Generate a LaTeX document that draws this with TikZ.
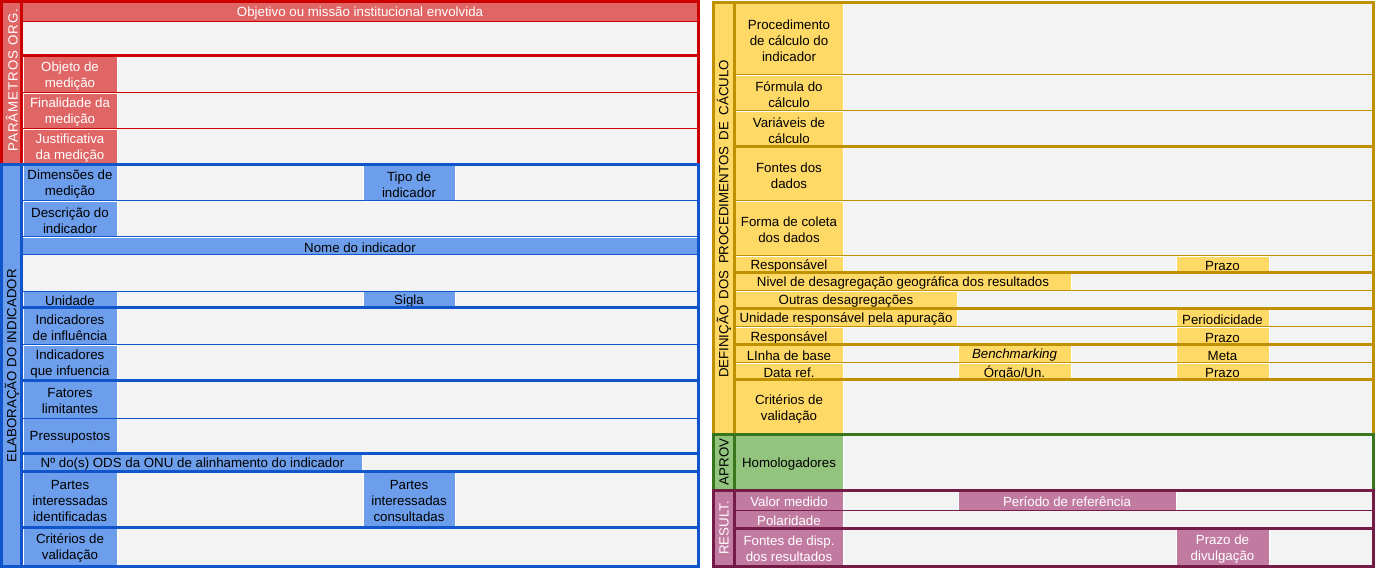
\documentclass[tikz,border=0pt]{standalone}
\usepackage{fontspec}
\setmainfont{Liberation Sans}
\usetikzlibrary{calc}

\definecolor{cinza}{HTML}{F3F3F3}
\definecolor{vermelho}{HTML}{CC0000}
\definecolor{vermclaro}{HTML}{E06666}
\definecolor{azul}{HTML}{1155CC}
\definecolor{azulclaro}{HTML}{6D9EEB}
\definecolor{ouro}{HTML}{BF9000}
\definecolor{ouroclaro}{HTML}{FFD966}
\definecolor{verde}{HTML}{38761D}
\definecolor{verdeclaro}{HTML}{93C47D}
\definecolor{roxo}{HTML}{741B47}
\definecolor{roxoclaro}{HTML}{C27BA0}

% celula: nome, fundo, cor do texto, x1, y1, x2, y2, texto
\newcommand{\celula}[8]{%
  \filldraw[fill=#2, draw=white, line width=0.8pt] (#4,#5) rectangle (#6,#7);
  \node[rotulo, text=#3] (#1) at ({(#4+#6)/2},{(#5+#7)/2+1.5}) {#8};
}

\begin{document}
\begin{tikzpicture}[x=1pt, y=-1pt,
    rotulo/.style={font=\fontsize{13.3}{16}\selectfont, align=center, inner sep=0pt},
    fina/.style={line width=1pt},
    grossa/.style={line width=3pt}]
            \useasboundingbox (0,0) rectangle (1377,569);
            \fill[cinza] (1.5,1.5) rectangle (698.5,566.5);
            \fill[cinza] (713,2.5) rectangle (1373.5,566.5);

            % parametros organizacionais
            \fill[vermclaro] (1.5,1.5) rectangle (21.5,164.5);
            \node[rotulo, rotate=90, text=white] (parametros) at (12,80) {\addfontfeature{LetterSpace=7.5}PARÂMETROS ORG.};
            \celula{objetivo}{vermclaro}{white}{21.5}{1.5}{698.5}{21.5}{Objetivo ou missão institucional envolvida}
            \celula{objeto}{vermclaro}{white}{23}{55.5}{117}{93}{Objeto de\\medição}
            \celula{finalidade}{vermclaro}{white}{23}{93}{117}{129}{Finalidade da\\medição}
            \celula{justificativa}{vermclaro}{white}{23}{129}{117}{164.5}{Justificativa\\da medição}
            \draw[vermelho, fina] (21.5,21.5) -- (698.5,21.5);
            \draw[vermelho, fina] (23,93) -- (698.5,93);
            \draw[vermelho, fina] (23,129) -- (698.5,129);
            \draw[vermelho, grossa] (21.5,55.5) -- (698.5,55.5);
            \draw[vermelho, grossa] (21.5,1.5) -- (21.5,164.5);
            \draw[vermelho, grossa] (1.5,1.5) rectangle (698.5,164.5);

            % elaboracao do indicador
            \fill[azulclaro] (1.5,164.5) rectangle (21.5,566.5);
            \node[rotulo, rotate=90] (elaboracao) at (12,366) {ELABORAÇÃO DO INDICADOR};
            \celula{dimensoes}{azulclaro}{black}{23}{164.5}{117}{201}{Dimensões de\\medição}
            \celula{tipo}{azulclaro}{black}{363}{164.5}{455}{201}{Tipo de\\indicador}
            \celula{descricao}{azulclaro}{black}{23}{201}{117}{237}{Descrição do\\indicador}
            \celula{nome}{azulclaro}{black}{21.5}{237}{698.5}{254.5}{Nome do indicador}
            \celula{unidade}{azulclaro}{black}{23}{291.5}{117}{307.5}{Unidade}
            \celula{sigla}{azulclaro}{black}{363}{291.5}{455}{307.5}{Sigla}
            \celula{influencia}{azulclaro}{black}{23}{307.5}{117}{345}{Indicadores\\de influência}
            \celula{influenciados}{azulclaro}{black}{23}{345}{117}{380.5}{Indicadores\\que infuencia}
            \celula{fatores}{azulclaro}{black}{23}{380.5}{117}{418}{Fatores\\limitantes}
            \celula{pressupostos}{azulclaro}{black}{23}{418}{117}{453.5}{Pressupostos}
            \celula{ods}{azulclaro}{black}{23}{453.5}{362}{471}{Nº do(s) ODS da ONU de alinhamento do indicador}
            \celula{identificadas}{azulclaro}{black}{23}{471}{117}{527.5}{Partes\\interessadas\\identificadas}
            \celula{consultadas}{azulclaro}{black}{363}{471}{455}{527.5}{Partes\\interessadas\\consultadas}
            \celula{validacaoE}{azulclaro}{black}{23}{527.5}{117}{566.5}{Critérios de\\validação}
            \draw[azul, fina] (21.5,201) -- (698.5,201);
            \draw[azul, fina] (21.5,237) -- (698.5,237);
            \draw[azul, fina] (21.5,254.5) -- (698.5,254.5);
            \draw[azul, fina] (21.5,291.5) -- (698.5,291.5);
            \draw[azul, fina] (21.5,345) -- (698.5,345);
            \draw[azul, fina] (21.5,418) -- (698.5,418);
            \draw[azul, grossa] (21.5,307.5) -- (698.5,307.5);
            \draw[azul, grossa] (21.5,380.5) -- (698.5,380.5);
            \draw[azul, grossa] (21.5,453.5) -- (698.5,453.5);
            \draw[azul, grossa] (21.5,471) -- (698.5,471);
            \draw[azul, grossa] (21.5,527.5) -- (698.5,527.5);
            \draw[azul, grossa] (21.5,164.5) -- (21.5,566.5);
            \draw[azul, grossa] (1.5,164.5) rectangle (698.5,566.5);

            % definicao dos procedimentos de calculo
            \fill[ouroclaro] (713,2.5) rectangle (734.5,434.5);
            \node[rotulo, rotate=90] (definicao) at (724,219) {\makebox[318pt][s]{DEFINIÇÃO DOS PROCEDIMENTOS DE CÁCULO}};
            \celula{procedimento}{ouroclaro}{black}{735}{2.5}{843}{75}{Procedimento\\de cálculo do\\indicador}
            \celula{formula}{ouroclaro}{black}{735}{75}{843}{111}{Fórmula do\\cálculo}
            \celula{variaveis}{ouroclaro}{black}{735}{111}{843}{146.5}{Variáveis de\\cálculo}
            \celula{fontes}{ouroclaro}{black}{735}{146.5}{843}{201}{Fontes dos\\dados}
            \celula{coleta}{ouroclaro}{black}{735}{201}{843}{256}{Forma de coleta\\dos dados}
            \celula{responsavelA}{ouroclaro}{black}{735}{256}{843}{272.5}{Responsável}
            \celula{prazoA}{ouroclaro}{black}{1176}{256}{1269}{272.5}{Prazo}
            \celula{geografica}{ouroclaro}{black}{735}{272.5}{1071}{291}{Nivel de desagregação geográfica dos resultados}
            \celula{outras}{ouroclaro}{black}{735}{291}{957}{308.5}{Outras desagregações}
            \celula{apuracao}{ouroclaro}{black}{735}{308.5}{957}{327}{Unidade responsável pela apuração}
            \celula{periodicidade}{ouroclaro}{black}{1176}{308.5}{1269}{327}{Periodicidade}
            \celula{responsavelB}{ouroclaro}{black}{735}{327}{843}{345}{Responsável}
            \celula{prazoB}{ouroclaro}{black}{1176}{327}{1269}{345}{Prazo}
            \celula{linha}{ouroclaro}{black}{735}{345}{843}{363}{LInha de base}
            \celula{benchmarking}{ouroclaro}{black}{958}{345}{1071}{363}{\textit{Benchmarking}}
            \celula{meta}{ouroclaro}{black}{1176}{345}{1269}{363}{Meta}
            \celula{dataref}{ouroclaro}{black}{735}{363}{843}{380}{Data ref.}
            \celula{orgao}{ouroclaro}{black}{958}{363}{1071}{380}{Órgão/Un.}
            \celula{prazoC}{ouroclaro}{black}{1176}{363}{1269}{380}{Prazo}
            \celula{validacaoD}{ouroclaro}{black}{735}{380}{843}{434.5}{Critérios de\\validação}
            \draw[ouro, fina] (734.5,75) -- (1373.5,75);
            \draw[ouro, fina] (734.5,111) -- (1373.5,111);
            \draw[ouro, fina] (734.5,201) -- (1373.5,201);
            \draw[ouro, fina] (734.5,256) -- (1373.5,256);
            \draw[ouro, fina] (734.5,291) -- (1373.5,291);
            \draw[ouro, fina] (734.5,327) -- (1373.5,327);
            \draw[ouro, fina] (734.5,363) -- (1373.5,363);
            \draw[ouro, grossa] (734.5,146.5) -- (1373.5,146.5);
            \draw[ouro, grossa] (734.5,272.5) -- (1373.5,272.5);
            \draw[ouro, grossa] (734.5,308.5) -- (1373.5,308.5);
            \draw[ouro, grossa] (734.5,345) -- (1373.5,345);
            \draw[ouro, grossa] (734.5,380) -- (1373.5,380);
            \draw[ouro, grossa] (734.5,2.5) -- (734.5,434.5);
            \draw[ouro, grossa] (713,2.5) rectangle (1373.5,434.5);

            % aprovacao
            \fill[verdeclaro] (713,434.5) rectangle (734.5,490);
            \node[rotulo, rotate=90] (aprov) at (724,462) {APROV};
            \celula{homologadores}{verdeclaro}{black}{735}{434.5}{843}{490}{Homologadores}
            \draw[verde, grossa] (734.5,434.5) -- (734.5,490);
            \draw[verde, grossa] (713,434.5) rectangle (1373.5,490);

            % resultados
            \fill[roxoclaro] (713,490) rectangle (734.5,566.5);
            \node[rotulo, rotate=90, text=white] (result) at (724,528) {RESULT.};
            \celula{valor}{roxoclaro}{white}{735}{490}{843}{510}{Valor medido}
            \celula{periodo}{roxoclaro}{white}{958}{490}{1176}{510}{Período de referência}
            \celula{polaridade}{roxoclaro}{white}{735}{510}{843}{528}{Polaridade}
            \celula{disponibilidade}{roxoclaro}{white}{735}{528}{843}{566.5}{Fontes de disp.\\dos resultados}
            \celula{divulgacao}{roxoclaro}{white}{1176}{528}{1269}{566.5}{Prazo de\\divulgação}
            \draw[roxo, fina] (734.5,510) -- (1373.5,510);
            \draw[roxo, grossa] (734.5,528) -- (1373.5,528);
            \draw[roxo, grossa] (734.5,490) -- (734.5,566.5);
            \draw[roxo, grossa] (713,490) rectangle (1373.5,566.5);
        \end{tikzpicture}
\end{document}
